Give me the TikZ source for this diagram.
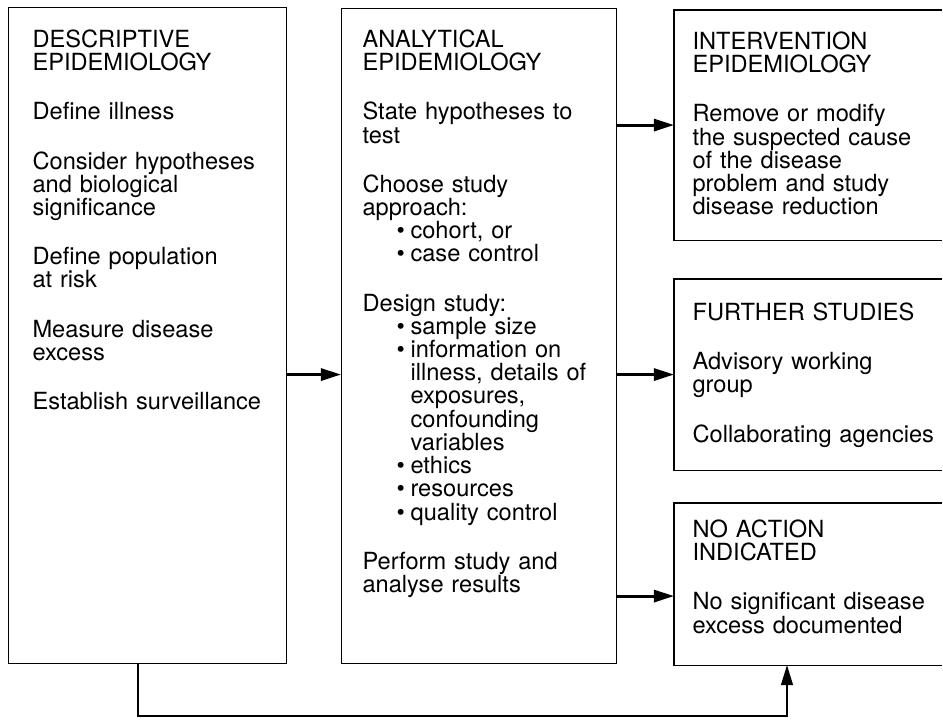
\documentclass[tikz,border=0pt]{standalone}
\usepackage{fontspec}
\setmainfont{TeX Gyre Heros}
\usetikzlibrary{arrows.meta}
\newlength{\px}
\setlength{\px}{0.025cm}
\newcommand{\gap}{\par\vspace{26\px}}
\newcommand{\bul}{\par\hangindent=48\px\hspace*{34\px}\makebox[14\px][l]{\textbullet}}

\begin{document}
\begin{tikzpicture}[x=0.025cm, y=-0.025cm]
    \tikzstyle{stage} = [draw, line width=0.8pt, anchor=north west, align=left, inner ysep=0pt, font=\fontsize{16.8pt}{16.5pt}\selectfont]
    \tikzstyle{openstage} = [stage, draw=none]
    \tikzstyle{edge} = [line width=0.8pt]
    \tikzstyle{arrow} = [line width=2.1pt, -{Triangle[length=0.5cm,width=0.3cm]}]
    \tikzstyle{feedback} = [line width=0.8pt, -{Triangle[length=0.5cm,width=0.3cm]}]

    \useasboundingbox (0,0) rectangle (943,719);

    \node[stage, inner xsep=24\px, text width=230\px, text height=40\px, text depth=616\px] (desc) at (8,7) {DESCRIPTIVE\\EPIDEMIOLOGY\gap Define illness\gap Consider hypotheses\\and biological\\significance\gap Define population\\at risk\gap Measure disease\\excess\gap Establish surveillance};
    \node[stage, inner xsep=21\px, text width=233\px, text height=39\px, text depth=616\px] (anal) at (341,8) {ANALYTICAL\\EPIDEMIOLOGY\gap State hypotheses to\\test\gap Choose study\\approach:\bul cohort, or\bul case control\gap Design study:\bul sample size\bul information on\newline illness, details of\newline exposures,\newline confounding\newline variables\bul ethics\bul resources\bul quality control\gap Perform study and\\analyse results};

    % right-hand boxes are open at the page edge
    \node[openstage, inner xsep=18\px, text width=233\px, text height=39\px, text depth=190\px] (inter) at (674,10) {INTERVENTION\\EPIDEMIOLOGY\gap Remove or modify\\the suspected cause\\of the disease\\problem and study\\disease reduction};
    \node[openstage, inner xsep=18\px, text width=233\px, text height=41\px, text depth=149\px] (further) at (674,279) {FURTHER STUDIES\gap Advisory working\\group\gap\mbox{Collaborating agencies}};
    \node[openstage, inner xsep=18\px, text width=233\px, text height=34\px, text depth=127\px] (noact) at (674,503) {NO ACTION\\INDICATED\gap\mbox{No significant disease}\\excess documented};
    \foreach \b in {inter, further, noact}
        \draw[edge] ([xshift=-2\px]\b.north east) -- (\b.north west) -- (\b.south west) -- ([xshift=-2\px]\b.south east);

    \coordinate (noin) at ([yshift=-12\px]noact.west);
    \coordinate (lpa) at (138,716);
    \coordinate (lpb) at (787,716);

    \draw[arrow] (desc.east |- further.west) -- (anal.west |- further.west);
    \draw[arrow] (anal.east |- inter.west) -- (inter.west);
    \draw[arrow] (anal.east |- further.west) -- (further.west);
    \draw[arrow] (anal.east |- noin) -- (noin);
    \draw[feedback] (desc.south -| lpa) -- (lpa) -- (lpb) -- (noact.south -| lpb);
\end{tikzpicture}
\end{document}
